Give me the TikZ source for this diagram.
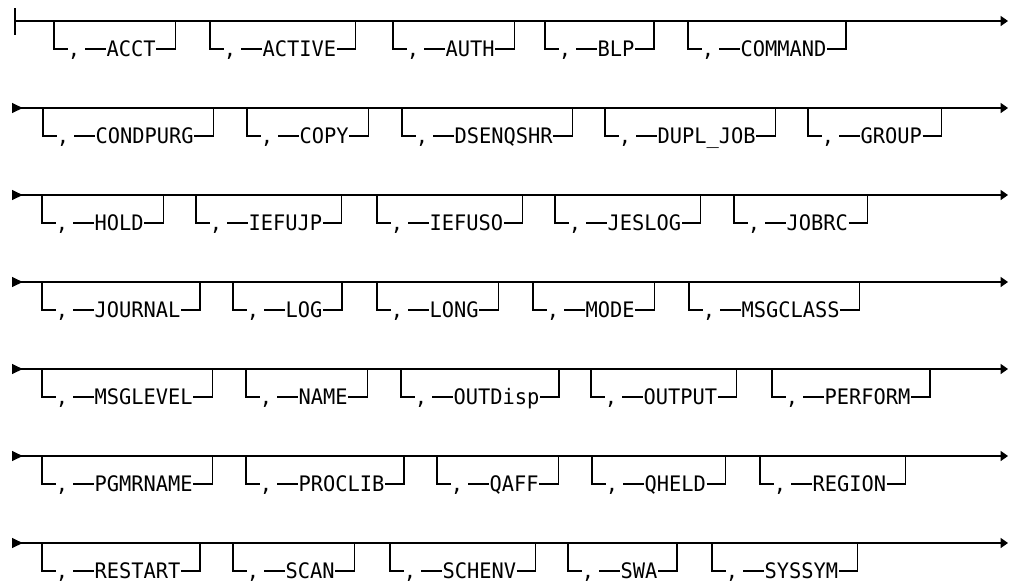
\documentclass[tikz,border=0pt]{standalone}
\usepackage{fontspec}
\setmonofont[FakeStretch=0.955]{DejaVu Sans Mono}
\usetikzlibrary{arrows.meta,calc}

\begin{document}
\begin{tikzpicture}[x=0.75pt, y=-0.75pt, line width=0.9pt,
  every node/.style={font=\fontsize{16pt}{19pt}\selectfont\ttfamily, inner sep=0pt},
  kw/.style={anchor=base west},
  sep/.style={anchor=base},
  rail/.style={-{Triangle[length=5.5pt,width=7.5pt]}},
  railin/.style={{Triangle[reversed,length=8pt,width=7.5pt]}-{Triangle[length=5.5pt,width=7.5pt]}}]
  \useasboundingbox (0,0) rectangle (1010,586);

  % main rails
  \coordinate (st1) at (15,21);
  \coordinate (en1) at (1008,21);
  \draw (15,8) -- (15,35);
  \draw[rail] (st1) -- (en1);
  \foreach \y [count=\r from 2] in {108,195,282,369,456,543} {
    \coordinate (st\r) at (12,\y);
    \coordinate (en\r) at (1008,\y);
    \draw[railin] (st\r) -- (en\r);
  }

  % optional keywords, one bracket each
  \foreach \y/\row [count=\r] in {
      21/{54/ACCT,210/ACTIVE,393/AUTH,545/BLP,688/COMMAND},
      108/{43/CONDPURG,247/COPY,402/DSENQSHR,605/DUPL\_JOB,808/GROUP},
      195/{42/HOLD,196/IEFUJP,377/IEFUSO,555/JESLOG,734/JOBRC},
      282/{42/JOURNAL,233/LOG,377/LONG,533/MODE,689/MSGCLASS},
      369/{42/MSGLEVEL,246/NAME,401/OUTDisp,591/OUTPUT,772/PERFORM},
      456/{42/PGMRNAME,246/PROCLIB,437/QAFF,592/QHELD,760/REGION},
      543/{42/RESTART,233/SCAN,390/SCHENV,568/SWA,712/SYSSYM}} {
    \foreach \x/\kw [count=\i] in \row {
      \coordinate (t\r-\i) at (\x,\y);
      \coordinate (c\r-\i) at (\x,\y+28);
      \node[sep] (s\r-\i) at (\x+20,\y+35) {,};
      \node[kw] (k\r-\i) at (\x+52,\y+35) {\kw};
      \draw (t\r-\i) -- (c\r-\i) -- ++(14,0);
      \draw ($(c\r-\i)+(31,0)$) -- (k\r-\i.west |- c\r-\i);
      \draw (k\r-\i.east |- c\r-\i) -- ++(19,0) coordinate (d\r-\i) -- (d\r-\i |- t\r-\i);
    }
  }
\end{tikzpicture}
\end{document}
